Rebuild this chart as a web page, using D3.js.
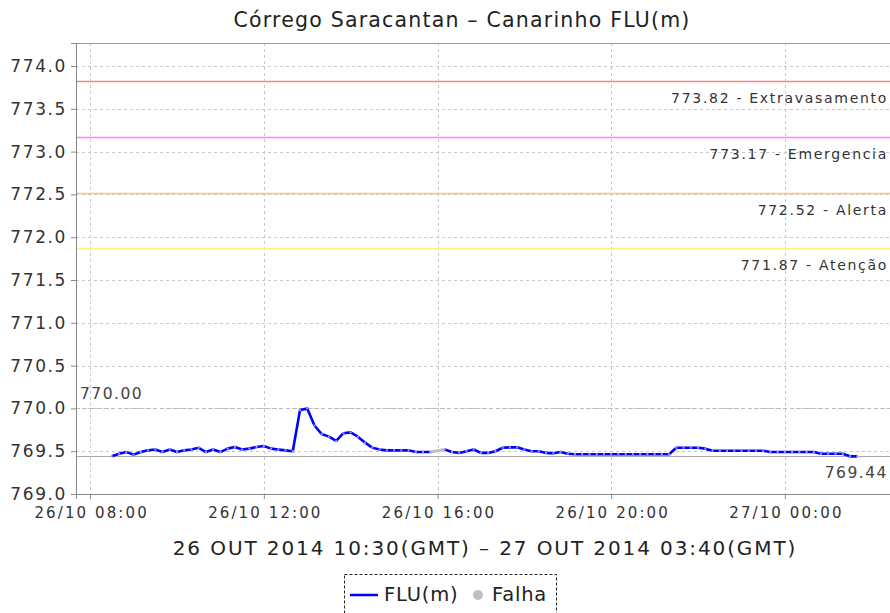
<!DOCTYPE html>
<html>
<head>
<meta charset="utf-8">
<script src="https://cdn.jsdelivr.net/npm/d3@7"></script>
<style>
  html, body { margin: 0; padding: 0; background: #fff; }
  svg { display: block; font-family: "DejaVu Sans", sans-serif; }
</style>
</head>
<body>
<svg id="chart" width="890" height="613"></svg>
<script>
// Water level readings, one every 10 minutes from 26/10 08:30 (null = gauge failure)
const startTime = "2014-10-26T08:30:00";
const stepMinutes = 10;
const levels = [
  769.44, 769.47, 769.49, 769.46, 769.49, 769.51, 769.52, 769.49, 769.52, 769.49,
  769.51, 769.52, 769.54, 769.49, 769.52, 769.49, 769.53, 769.55, 769.52, 769.53,
  769.55, 769.56, 769.53, 769.52, 769.51, 769.50, 769.98, 770.00, 769.80, 769.70,
  769.67, 769.62, 769.71, 769.72, 769.67, 769.60, 769.54, 769.52, 769.51, 769.51,
  769.51, 769.51, 769.49, 769.49, 769.49, null,   769.52, 769.49, 769.48, 769.50,
  769.52, 769.48, 769.48, 769.50, 769.54, 769.545, 769.545, 769.52, 769.50, 769.50,
  769.48, 769.475, 769.49, 769.47, 769.465, 769.465, 769.465, 769.465, 769.465, 769.465,
  769.465, 769.465, 769.465, 769.465, 769.465, 769.465, 769.465, 769.465, 769.54, 769.54,
  769.54, 769.54, 769.53, 769.505, 769.505, 769.505, 769.505, 769.505, 769.505, 769.505,
  769.505, 769.49, 769.49, 769.49, 769.49, 769.49, 769.49, 769.49, 769.47, 769.47,
  769.47, 769.47, 769.44, 769.44
];

// Alert thresholds
const thresholdValues = [773.82, 773.17, 772.52, 771.87];
const thresholdNames = ["Extravasamento", "Emergencia", "Alerta", "Atenção"];
const thresholdColors = ["#ff8080", "#ff80ff", "#ffc080", "#ffef80"];

const yTicks = [769.0, 769.5, 770.0, 770.5, 771.0, 771.5, 772.0, 772.5, 773.0, 773.5, 774.0];
const xTickTimes = ["2014-10-26T08:00:00", "2014-10-26T12:00:00", "2014-10-26T16:00:00",
                    "2014-10-26T20:00:00", "2014-10-27T00:00:00"];

const titleText = "Córrego Saracantan – Canarinho FLU(m)";
const periodText = "26 OUT 2014 10:30(GMT) – 27 OUT 2014 03:40(GMT)";
const seriesName = "FLU(m)";
const failName = "Falha";

const svg = d3.select("#chart");
const plot = { left: 76, top: 43, right: 892, bottom: 494 };

const parse = d3.timeParse("%Y-%m-%dT%H:%M:%S");
const t0 = parse(startTime);
const data = levels.map((v, i) => ({ t: d3.timeMinute.offset(t0, i * stepMinutes), v }));

const x = d3.scaleTime()
  .domain([parse("2014-10-26T07:40:30"), parse("2014-10-27T02:28:00")])
  .range([plot.left, plot.right]);
const y = d3.scaleLinear()
  .domain([769.0, 774.0 + (66 - plot.top) / ((494 - 66) / 5)])
  .range([plot.bottom, plot.top]);

// Grid
const grid = svg.append("g").attr("stroke", "#c8c8c8").attr("stroke-dasharray", "3,3").attr("stroke-width", 1);
grid.selectAll("line.h").data(yTicks).join("line")
  .attr("x1", plot.left).attr("x2", plot.right)
  .attr("y1", d => Math.round(y(d)) + 0.5).attr("y2", d => Math.round(y(d)) + 0.5);
grid.selectAll("line.v").data(xTickTimes.map(parse)).join("line")
  .attr("y1", plot.top).attr("y2", plot.bottom)
  .attr("x1", d => Math.round(x(d)) + 0.5).attr("x2", d => Math.round(x(d)) + 0.5);

// Top outline
svg.append("line").attr("x1", plot.left).attr("x2", plot.right)
  .attr("y1", plot.top + 0.5).attr("y2", plot.top + 0.5).attr("stroke", "#999");

// Threshold lines and labels
thresholdValues.forEach((v, i) => {
  const yy = Math.round(y(v)) + 0.5;
  svg.append("line").attr("x1", plot.left).attr("x2", plot.right)
    .attr("y1", yy).attr("y2", yy).attr("stroke", thresholdColors[i]).attr("stroke-width", 1.5);
  svg.append("text").attr("x", 888).attr("y", yy + 21)
    .attr("text-anchor", "end").attr("font-size", 14).attr("fill", "#333")
    .attr("letter-spacing", 1.7)
    .text(d3.format(".2f")(v) + " - " + thresholdNames[i]);
});

// Max / min markers
const vals = levels.filter(v => v != null);
const vMax = d3.max(vals), vMin = d3.min(vals);
svg.append("line").attr("x1", plot.left).attr("x2", plot.right)
  .attr("y1", Math.round(y(vMax)) + 0.5).attr("y2", Math.round(y(vMax)) + 0.5)
  .attr("stroke", "#bbb").attr("stroke-dasharray", "4,3");
svg.append("text").attr("x", 80).attr("y", y(vMax) - 9)
  .attr("font-size", 15.5).attr("fill", "#444").attr("letter-spacing", 1.5)
  .text(d3.format(".2f")(vMax));
svg.append("line").attr("x1", plot.left).attr("x2", plot.right)
  .attr("y1", Math.round(y(vMin)) + 0.5).attr("y2", Math.round(y(vMin)) + 0.5)
  .attr("stroke", "#aaa").attr("stroke-width", 1.2);
svg.append("text").attr("x", 888).attr("y", y(vMin) + 22)
  .attr("text-anchor", "end").attr("font-size", 15.5).attr("fill", "#444").attr("letter-spacing", 1.5)
  .text(d3.format(".2f")(vMin));

// Axes
const yAxis = svg.append("g").attr("transform", `translate(${plot.left},0)`)
  .call(d3.axisLeft(y).tickValues(yTicks).tickFormat(d3.format(".1f")).tickSizeOuter(0).tickSize(5));
yAxis.select(".domain").attr("stroke", "#888");
yAxis.selectAll(".tick line").attr("stroke", "#888");
yAxis.selectAll("text").attr("font-size", 17).attr("fill", "#333").attr("dx", -1)
  .attr("letter-spacing", 1.6).attr("font-family", "DejaVu Sans");

const xAxis = svg.append("g").attr("transform", `translate(0,${plot.bottom})`)
  .call(d3.axisBottom(x).tickValues(xTickTimes.map(parse)).tickFormat(d3.timeFormat("%d/%m %H:%M")).tickSizeOuter(0).tickSize(5));
xAxis.select(".domain").attr("stroke", "#888");
xAxis.selectAll(".tick line").attr("stroke", "#888");
xAxis.selectAll("text").attr("font-size", 15).attr("fill", "#333").attr("dy", "1.05em").attr("dx", 1)
  .attr("font-family", "DejaVu Sans").attr("letter-spacing", 2.1);

// Failure gaps bridged in gray
const gapSegs = [];
data.forEach((d, i) => {
  if (d.v == null) {
    let a = i - 1, b = i + 1;
    while (b < data.length && data[b].v == null) b++;
    if (a >= 0 && b < data.length) gapSegs.push([data[a], data[b]]);
  }
});
const line = d3.line().defined(d => d.v != null).x(d => x(d.t)).y(d => y(d.v));
svg.append("g").selectAll("path").data(gapSegs).join("path")
  .attr("d", d3.line().x(d => x(d.t)).y(d => y(d.v)))
  .attr("fill", "none").attr("stroke", "#c0c0c0").attr("stroke-width", 3);

// Series line with point markers
svg.append("path").datum(data).attr("d", line)
  .attr("fill", "none").attr("stroke", "#0000ff").attr("stroke-width", 2.6)
  .attr("stroke-linejoin", "round");
svg.append("g").selectAll("rect").data(data.filter(d => d.v != null)).join("rect")
  .attr("x", d => x(d.t) - 1).attr("y", d => y(d.v) - 1)
  .attr("width", 2).attr("height", 2).attr("fill", "#9a9aff");

// Title and period
svg.append("text").attr("x", 462).attr("y", 27).attr("text-anchor", "middle")
  .attr("font-size", 20.5).attr("fill", "#222").attr("letter-spacing", 1.2).text(titleText);
svg.append("text").attr("x", 485).attr("y", 555).attr("text-anchor", "middle")
  .attr("font-size", 20).attr("fill", "#222").attr("letter-spacing", 1.9).text(periodText);

// Legend
const lg = svg.append("g");
lg.append("rect").attr("x", 344.5).attr("y", 574.5).attr("width", 212).attr("height", 50)
  .attr("fill", "none").attr("stroke", "#222").attr("stroke-dasharray", "3,2");
lg.append("line").attr("x1", 350).attr("x2", 378).attr("y1", 595).attr("y2", 595)
  .attr("stroke", "#0000ff").attr("stroke-width", 2.5);
lg.append("text").attr("x", 384).attr("y", 601).attr("font-size", 19.5).attr("fill", "#222")
  .attr("letter-spacing", 0.8).text(seriesName);
lg.append("circle").attr("cx", 478).attr("cy", 595).attr("r", 5).attr("fill", "#c0c0c0");
lg.append("text").attr("x", 492).attr("y", 601).attr("font-size", 19.5).attr("fill", "#222")
  .attr("letter-spacing", 0.8).text(failName);
</script>
</body>
</html>
